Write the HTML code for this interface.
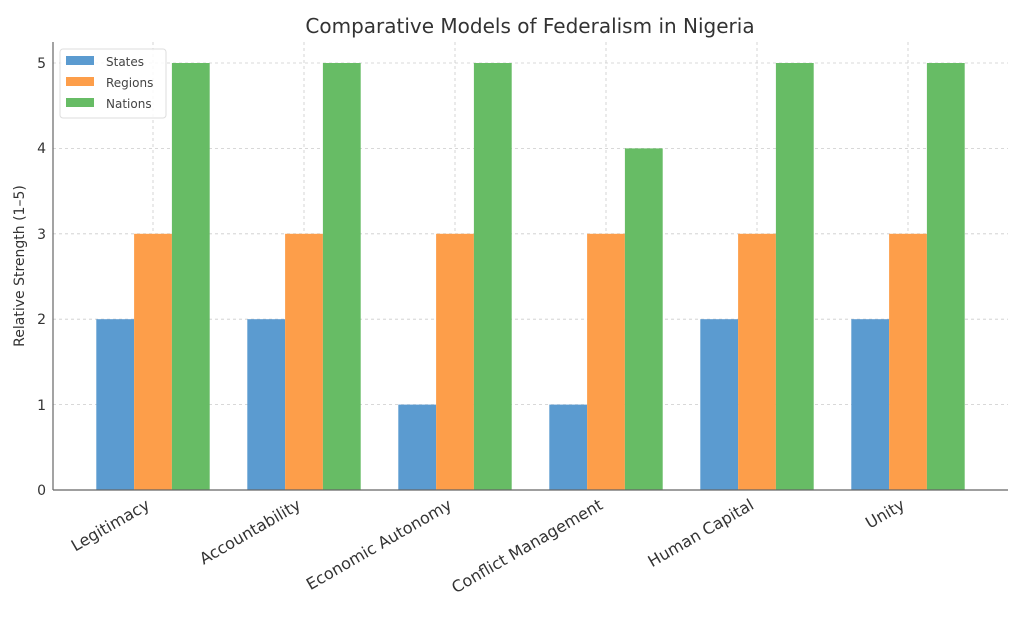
<!DOCTYPE html>
<html><head><meta charset="utf-8"><style>body{margin:0;background:#fff}</style></head>
<body>
<svg width="1024" height="616" xmlns="http://www.w3.org/2000/svg" font-family="DejaVu Sans, Liberation Sans, sans-serif">
<rect width="1024" height="616" fill="#fff"/>
<text x="530" y="33" text-anchor="middle" font-size="20" fill="#333">Comparative Models of Federalism in Nigeria</text>
<g stroke="#ccc" stroke-dasharray="3,3" stroke-width="0.8">
<line x1="53" x2="1008" y1="404.6" y2="404.6"/><line x1="53" x2="1008" y1="319.2" y2="319.2"/>
<line x1="53" x2="1008" y1="233.8" y2="233.8"/><line x1="53" x2="1008" y1="148.4" y2="148.4"/>
<line x1="53" x2="1008" y1="63" y2="63"/>
<line x1="153" x2="153" y1="42" y2="490"/><line x1="304" x2="304" y1="42" y2="490"/>
<line x1="455" x2="455" y1="42" y2="490"/><line x1="606" x2="606" y1="42" y2="490"/>
<line x1="757" x2="757" y1="42" y2="490"/><line x1="908" x2="908" y1="42" y2="490"/>
</g>
<g fill="#5b9bd0">
<rect x="96.3" y="319.2" width="37.8" height="170.8"/>
<rect x="247.3" y="319.2" width="37.8" height="170.8"/>
<rect x="398.3" y="404.6" width="37.8" height="85.4"/>
<rect x="549.3" y="404.6" width="37.8" height="85.4"/>
<rect x="700.3" y="319.2" width="37.8" height="170.8"/>
<rect x="851.3" y="319.2" width="37.8" height="170.8"/>
</g>
<g fill="#fd9e4a">
<rect x="134.1" y="233.8" width="37.8" height="256.2"/>
<rect x="285.1" y="233.8" width="37.8" height="256.2"/>
<rect x="436.1" y="233.8" width="37.8" height="256.2"/>
<rect x="587.1" y="233.8" width="37.8" height="256.2"/>
<rect x="738.1" y="233.8" width="37.8" height="256.2"/>
<rect x="889.1" y="233.8" width="37.8" height="256.2"/>
</g>
<g fill="#67bc65">
<rect x="171.9" y="63" width="37.8" height="427"/>
<rect x="322.9" y="63" width="37.8" height="427"/>
<rect x="473.9" y="63" width="37.8" height="427"/>
<rect x="624.9" y="148.4" width="37.8" height="341.6"/>
<rect x="775.9" y="63" width="37.8" height="427"/>
<rect x="926.9" y="63" width="37.8" height="427"/>
</g>
<line x1="53" x2="53" y1="42" y2="490" stroke="#666" stroke-width="1.2"/>
<line x1="53" x2="1008" y1="490" y2="490" stroke="#666" stroke-width="1.2"/>
<g font-size="14" fill="#333" text-anchor="end">
<text x="46" y="495">0</text><text x="46" y="410">1</text><text x="46" y="324">2</text>
<text x="46" y="239">3</text><text x="46" y="153">4</text><text x="46" y="68">5</text>
</g>
<text transform="translate(24,266) rotate(-90)" text-anchor="middle" font-size="14" fill="#333">Relative Strength (1–5)</text>
<g font-size="16" fill="#333" text-anchor="end">
<text transform="translate(151,508) rotate(-30)">Legitimacy</text>
<text transform="translate(302,508) rotate(-30)">Accountability</text>
<text transform="translate(453,508) rotate(-30)">Economic Autonomy</text>
<text transform="translate(604,508) rotate(-30)">Conflict Management</text>
<text transform="translate(755,508) rotate(-30)">Human Capital</text>
<text transform="translate(906,508) rotate(-30)">Unity</text>
</g>
<rect x="60" y="49" width="106" height="69" fill="#fff" fill-opacity="0.85" stroke="#ddd" rx="3"/>
<rect x="66" y="56" width="28" height="9" fill="#5b9bd0"/><text x="106" y="66" font-size="12" fill="#444">States</text>
<rect x="66" y="77" width="28" height="9" fill="#fd9e4a"/><text x="106" y="87" font-size="12" fill="#444">Regions</text>
<rect x="66" y="98" width="28" height="9" fill="#67bc65"/><text x="106" y="108" font-size="12" fill="#444">Nations</text>
</svg>
</body></html>
